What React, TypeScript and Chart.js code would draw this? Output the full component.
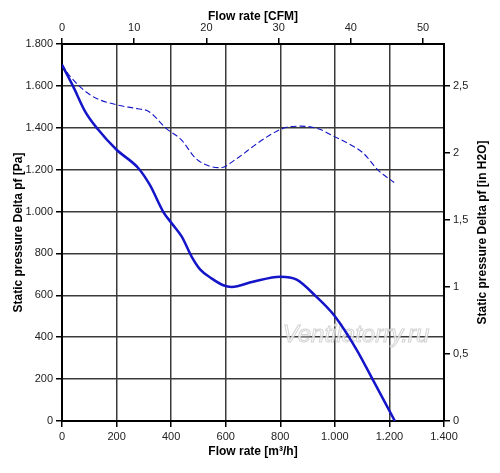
import { useEffect, useRef } from "react";
import { Chart, registerables } from "chart.js";

Chart.register(...registerables);

// solid curve: flow rate [m³/h] vs static pressure [Pa]
const flowM3h = [0, 40, 85, 130, 200, 280, 322, 371, 402, 439, 475, 506, 548, 591, 622, 700, 800, 860, 930, 1000, 1080, 1140, 1220];
const pressurePa = [1700, 1600, 1477, 1395, 1295, 1207, 1127, 999, 944, 880, 785, 724, 681, 648, 640, 665, 689, 675, 596, 500, 340, 195, 0];

// dashed curve: flow rate [CFM] vs static pressure [in H2O]
const flowCfm = [0, 1, 4, 7.5, 10.5, 12, 14.5, 16.5, 18.5, 20.5, 22, 24, 27, 29, 31, 33, 35.5, 37.8, 40, 41.7, 43.8, 46];
const pressureInH2O = [2.66, 2.58, 2.43, 2.36, 2.33, 2.31, 2.18, 2.1, 1.96, 1.9, 1.89, 1.95, 2.07, 2.14, 2.19, 2.2, 2.18, 2.12, 2.06, 2.0, 1.87, 1.78];

const FONT = "'Liberation Sans', Arial, sans-serif";
const BLUE = "#1414c8";

const fmtThousands = (v: number) =>
  v >= 1000 ? `${Math.floor(v / 1000)}.${String(v % 1000).padStart(3, "0")}` : String(v);

const overlay = {
  id: "overlay",
  beforeDatasetsDraw(chart: any) {
    const ctx = chart.ctx;
    ctx.save();
    ctx.font = `italic 24px ${FONT}`;
    ctx.textAlign = "center";
    ctx.textBaseline = "middle";
    ctx.fillStyle = "rgba(255,255,255,0.75)";
    ctx.strokeStyle = "rgba(200,200,200,0.8)";
    ctx.lineWidth = 1;
    ctx.fillText("Ventilatorry.ru", 356, 335);
    ctx.strokeText("Ventilatorry.ru", 356, 335);
    ctx.restore();
  },
  afterDraw(chart: any) {
    const ctx = chart.ctx;
    const { top, bottom } = chart.chartArea;
    ctx.save();
    ctx.translate(483, (top + bottom) / 2);
    ctx.rotate(-Math.PI / 2);
    ctx.font = `bold 12px ${FONT}`;
    ctx.fillStyle = "#000";
    ctx.textAlign = "center";
    ctx.textBaseline = "middle";
    ctx.fillText("Static pressure Delta pf [in H2O]", 0, 0);
    ctx.restore();
  },
};

export default function App() {
  const canvasRef = useRef<HTMLCanvasElement>(null);

  useEffect(() => {
    const ctx = canvasRef.current?.getContext("2d");
    if (!ctx) return;

    const tickFont = { family: FONT, size: 11 };
    const titleFont = { family: FONT, size: 12, weight: "bold" as const };
    const border = { color: "#000", width: 2 };

    const chart = new Chart(ctx, {
      type: "line",
      data: {
        datasets: [
          {
            data: flowM3h.map((x, i) => ({ x, y: pressurePa[i] })),
            xAxisID: "x",
            yAxisID: "y",
            borderColor: BLUE,
            borderWidth: 2.5,
            cubicInterpolationMode: "monotone",
            pointRadius: 0,
          },
          {
            data: flowCfm.map((x, i) => ({ x, y: pressureInH2O[i] })),
            xAxisID: "x2",
            yAxisID: "y2",
            borderColor: BLUE,
            borderWidth: 1.1,
            borderDash: [6, 3],
            cubicInterpolationMode: "monotone",
            pointRadius: 0,
          },
        ],
      },
      options: {
        animation: false,
        responsive: true,
        maintainAspectRatio: false,
        layout: { padding: 0 },
        plugins: { legend: { display: false }, tooltip: { enabled: false } },
        scales: {
          x: {
            type: "linear",
            position: "bottom",
            min: 0,
            max: 1400,
            afterFit: (s: any) => { s.height = 52; },
            ticks: { stepSize: 200, color: "#222", font: tickFont, padding: 3, maxRotation: 0, callback: (v: any) => fmtThousands(Number(v)) },
            grid: { color: "#3a3a3a", lineWidth: 1.5, tickLength: 6, tickColor: "#000" },
            border,
            title: { display: true, text: "Flow rate [m³/h]", color: "#000", font: titleFont, padding: { top: 0, bottom: 14 } },
          },
          y: {
            type: "linear",
            position: "left",
            min: 0,
            max: 1800,
            afterFit: (s: any) => { s.width = 62; },
            ticks: { stepSize: 200, color: "#222", font: tickFont, padding: 3, callback: (v: any) => fmtThousands(Number(v)) },
            grid: { color: "#3a3a3a", lineWidth: 1.5, tickLength: 6, tickColor: "#000" },
            border,
            title: { display: true, text: "Static pressure Delta pf [Pa]", color: "#000", font: titleFont, padding: { top: 11, bottom: 0 } },
          },
          x2: {
            type: "linear",
            position: "top",
            min: 0,
            max: 52.9,
            afterFit: (s: any) => { s.height = 44; },
            ticks: { stepSize: 10, includeBounds: false, color: "#222", font: tickFont, padding: 3, maxRotation: 0 },
            grid: { drawOnChartArea: false, tickLength: 6, tickColor: "#000", lineWidth: 1.5 },
            border,
            title: { display: true, text: "Flow rate [CFM]", color: "#000", font: titleFont, padding: { top: 9, bottom: 0 } },
          },
          y2: {
            type: "linear",
            position: "right",
            min: 0,
            max: 2.813,
            afterFit: (s: any) => { s.width = 56; },
            ticks: { stepSize: 0.5, includeBounds: false, color: "#222", font: tickFont, padding: 3, callback: (v: any) => String(Number(v)).replace(".", ",") },
            grid: { drawOnChartArea: false, tickLength: 6, tickColor: "#000", lineWidth: 1.5 },
            border,
          },
        },
      },
      plugins: [overlay],
    });

    return () => {
      chart.destroy();
    };
  }, []);

  return (
    <div style={{ position: "absolute", left: 0, top: 0, width: 500, height: 473, background: "#fff" }}>
      <canvas ref={canvasRef} />
    </div>
  );
}
